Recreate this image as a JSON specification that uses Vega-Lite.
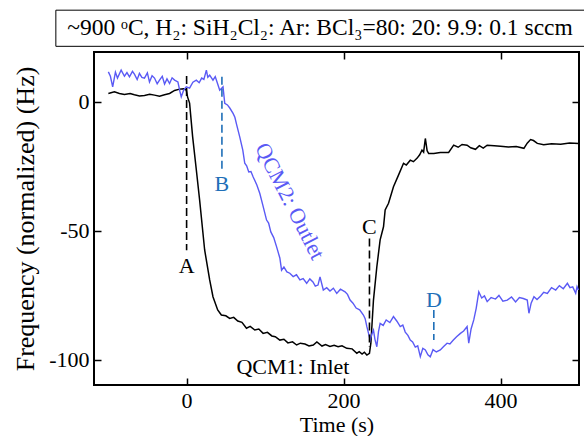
{
  "$schema": "https://vega.github.io/schema/vega-lite/v6.json",
  "width": 485,
  "height": 333,
  "autosize": {"type": "none"},
  "padding": {"left": 94, "top": 52, "right": 5, "bottom": 51},
  "background": "white",
  "config": {
    "font": "Liberation Serif",
    "view": {"stroke": "black", "strokeWidth": 2},
    "axis": {
      "grid": false,
      "domain": false,
      "tickColor": "black",
      "tickWidth": 1.5,
      "tickSize": -7,
      "labelColor": "black",
      "labelFontSize": 22,
      "titleColor": "black",
      "titleFontWeight": "normal",
      "titleFont": "Liberation Serif",
      "labelFont": "Liberation Serif"
    }
  },
  "datasets": {
    "qcm1": [
      {"t": -99.7, "v": 3.25}, {"t": -92.0, "v": 3.87}, {"t": -85.6, "v": 3.25}, {"t": -79.2, "v": 2.86},
      {"t": -72.0, "v": 3.2}, {"t": -66.5, "v": 2.71}, {"t": -60.0, "v": 2.3}, {"t": -53.7, "v": 2.48},
      {"t": -47.0, "v": 2.9}, {"t": -40.9, "v": 2.59}, {"t": -34.5, "v": 2.21}, {"t": -28.1, "v": 2.71},
      {"t": -21.7, "v": 3.25}, {"t": -15.3, "v": 4.41}, {"t": -8.9, "v": 4.92}, {"t": -3.8, "v": 5.03},
      {"t": -0.4, "v": 4.53}, {"t": 1.3, "v": 1.82}, {"t": 3.8, "v": -0.5}, {"t": 7.7, "v": -13.6},
      {"t": 12.4, "v": -26.4}, {"t": 16.6, "v": -38.1}, {"t": 23.0, "v": -57.4}, {"t": 29.4, "v": -69.0},
      {"t": 33.6, "v": -75.5}, {"t": 39.6, "v": -80.6}, {"t": 44.3, "v": -82.6}, {"t": 50.0, "v": -82.9},
      {"t": 54.9, "v": -83.9}, {"t": 60.0, "v": -83.5}, {"t": 65.2, "v": -84.9}, {"t": 70.5, "v": -85.4},
      {"t": 76.3, "v": -87.7}, {"t": 81.0, "v": -87.0}, {"t": 86.9, "v": -88.4}, {"t": 92.0, "v": -88.0},
      {"t": 97.5, "v": -89.7}, {"t": 103.0, "v": -89.3}, {"t": 108.6, "v": -90.7}, {"t": 113.0, "v": -91.0},
      {"t": 118.8, "v": -92.3}, {"t": 124.0, "v": -92.0}, {"t": 129.1, "v": -93.4}, {"t": 135.0, "v": -93.0},
      {"t": 140.2, "v": -94.2}, {"t": 145.0, "v": -93.5}, {"t": 150.8, "v": -93.8}, {"t": 156.0, "v": -94.6},
      {"t": 161.4, "v": -94.2}, {"t": 166.0, "v": -93.0}, {"t": 172.5, "v": -94.6}, {"t": 177.0, "v": -94.0},
      {"t": 182.7, "v": -94.8}, {"t": 188.0, "v": -94.3}, {"t": 193.0, "v": -94.9}, {"t": 198.0, "v": -94.5},
      {"t": 204.1, "v": -95.5}, {"t": 210.9, "v": -95.7}, {"t": 216.9, "v": -97.4}, {"t": 220.0, "v": -96.8},
      {"t": 223.6, "v": -97.7}, {"t": 226.5, "v": -97.0}, {"t": 229.7, "v": -98.1}, {"t": 233.0, "v": -97.4},
      {"t": 234.8, "v": -93.5}, {"t": 238.1, "v": -76.8}, {"t": 242.4, "v": -63.9}, {"t": 246.6, "v": -53.5},
      {"t": 250.9, "v": -48.4}, {"t": 253.0, "v": -41.9}, {"t": 257.3, "v": -39.3}, {"t": 263.6, "v": -32.9},
      {"t": 270.0, "v": -28.4}, {"t": 276.4, "v": -23.8}, {"t": 280.0, "v": -24.5}, {"t": 285.0, "v": -22.6},
      {"t": 289.0, "v": -23.2}, {"t": 293.5, "v": -21.9}, {"t": 297.0, "v": -20.5}, {"t": 299.9, "v": -18.7},
      {"t": 302.0, "v": -19.5}, {"t": 304.2, "v": -14.2}, {"t": 306.5, "v": -19.0}, {"t": 308.4, "v": -20.0},
      {"t": 315.0, "v": -20.0}, {"t": 323.3, "v": -19.6}, {"t": 333.9, "v": -19.6}, {"t": 340.3, "v": -16.8},
      {"t": 346.0, "v": -17.6}, {"t": 351.0, "v": -16.5}, {"t": 357.4, "v": -16.8}, {"t": 362.0, "v": -17.8},
      {"t": 368.1, "v": -18.4}, {"t": 373.0, "v": -17.0}, {"t": 378.0, "v": -17.9}, {"t": 383.0, "v": -16.8},
      {"t": 392.0, "v": -17.0}, {"t": 400.0, "v": -17.2}, {"t": 410.0, "v": -17.5}, {"t": 420.0, "v": -17.3},
      {"t": 429.8, "v": -18.0}, {"t": 434.0, "v": -16.0}, {"t": 438.3, "v": -14.6}, {"t": 442.0, "v": -15.0},
      {"t": 446.9, "v": -16.1}, {"t": 455.0, "v": -16.6}, {"t": 465.0, "v": -16.2}, {"t": 476.7, "v": -16.4},
      {"t": 488.0, "v": -16.0}, {"t": 499.5, "v": -16.1}
    ],
    "qcm2": [
      {"t": -99.7, "v": 11.6}, {"t": -97.1, "v": 9.9}, {"t": -94.2, "v": 5.8}, {"t": -90.7, "v": 11.5},
      {"t": -88.1, "v": 9.2}, {"t": -83.4, "v": 12.3}, {"t": -79.2, "v": 9.9}, {"t": -76.0, "v": 11.3},
      {"t": -72.8, "v": 9.7}, {"t": -69.0, "v": 11.8}, {"t": -66.5, "v": 10.7}, {"t": -63.0, "v": 8.6},
      {"t": -60.1, "v": 11.0}, {"t": -57.0, "v": 9.5}, {"t": -53.7, "v": 9.2}, {"t": -50.0, "v": 11.2},
      {"t": -47.3, "v": 7.7}, {"t": -44.0, "v": 10.1}, {"t": -40.9, "v": 9.2}, {"t": -37.5, "v": 7.0},
      {"t": -34.5, "v": 8.4}, {"t": -31.0, "v": 9.9}, {"t": -28.1, "v": 6.9}, {"t": -25.0, "v": 8.9},
      {"t": -21.7, "v": 7.1}, {"t": -18.5, "v": 9.3}, {"t": -15.3, "v": 8.4}, {"t": -11.1, "v": 7.7},
      {"t": -8.5, "v": 4.0}, {"t": -6.8, "v": 1.9}, {"t": -3.8, "v": 4.5}, {"t": -0.4, "v": 5.8},
      {"t": 3.8, "v": 5.3}, {"t": 8.0, "v": 7.6}, {"t": 12.4, "v": 8.4}, {"t": 16.0, "v": 7.4},
      {"t": 19.2, "v": 9.2}, {"t": 22.0, "v": 8.7}, {"t": 25.2, "v": 12.3}, {"t": 27.0, "v": 9.5},
      {"t": 29.4, "v": 10.3}, {"t": 33.6, "v": 8.4}, {"t": 36.5, "v": 9.8}, {"t": 39.6, "v": 6.9},
      {"t": 42.2, "v": 4.5}, {"t": 46.4, "v": 5.8}, {"t": 48.6, "v": -0.6}, {"t": 52.0, "v": -1.2},
      {"t": 55.0, "v": -2.4}, {"t": 59.2, "v": -4.5}, {"t": 61.5, "v": -6.0}, {"t": 63.9, "v": -9.0},
      {"t": 67.7, "v": -13.6}, {"t": 71.6, "v": -18.7}, {"t": 74.1, "v": -23.8}, {"t": 76.5, "v": -24.8},
      {"t": 79.2, "v": -27.2}, {"t": 82.0, "v": -27.0}, {"t": 84.7, "v": -29.0}, {"t": 89.5, "v": -32.2},
      {"t": 93.3, "v": -35.5}, {"t": 97.1, "v": -40.0}, {"t": 101.9, "v": -45.8}, {"t": 104.5, "v": -47.0},
      {"t": 107.3, "v": -50.4}, {"t": 111.0, "v": -52.6}, {"t": 114.6, "v": -56.1}, {"t": 118.8, "v": -60.5},
      {"t": 121.0, "v": -65.2}, {"t": 124.0, "v": -64.0}, {"t": 127.8, "v": -65.9}, {"t": 131.5, "v": -66.4},
      {"t": 135.8, "v": -67.7}, {"t": 140.0, "v": -67.0}, {"t": 144.4, "v": -69.0}, {"t": 148.5, "v": -68.5},
      {"t": 153.0, "v": -70.3}, {"t": 157.0, "v": -68.6}, {"t": 161.0, "v": -69.8}, {"t": 164.0, "v": -71.4},
      {"t": 167.4, "v": -71.0}, {"t": 170.0, "v": -67.8}, {"t": 174.2, "v": -72.9}, {"t": 178.5, "v": -72.0},
      {"t": 182.7, "v": -73.3}, {"t": 187.0, "v": -72.2}, {"t": 191.3, "v": -74.2}, {"t": 196.0, "v": -72.6},
      {"t": 201.9, "v": -73.6}, {"t": 205.0, "v": -74.6}, {"t": 208.3, "v": -76.8}, {"t": 212.0, "v": -78.0},
      {"t": 216.0, "v": -79.9}, {"t": 220.5, "v": -80.6}, {"t": 225.3, "v": -82.6}, {"t": 227.5, "v": -84.0},
      {"t": 229.7, "v": -87.1}, {"t": 233.9, "v": -92.3}, {"t": 236.0, "v": -90.0}, {"t": 238.1, "v": -88.4},
      {"t": 240.0, "v": -92.0}, {"t": 242.4, "v": -94.9}, {"t": 244.5, "v": -89.0}, {"t": 246.6, "v": -85.8},
      {"t": 250.5, "v": -86.6}, {"t": 254.3, "v": -84.5}, {"t": 259.0, "v": -85.5}, {"t": 263.6, "v": -83.2},
      {"t": 268.0, "v": -85.0}, {"t": 272.2, "v": -87.1}, {"t": 275.5, "v": -86.5}, {"t": 278.6, "v": -89.2},
      {"t": 282.0, "v": -90.5}, {"t": 285.0, "v": -92.3}, {"t": 288.0, "v": -93.0}, {"t": 291.4, "v": -95.0},
      {"t": 294.5, "v": -94.5}, {"t": 297.8, "v": -98.7}, {"t": 301.0, "v": -95.5}, {"t": 304.2, "v": -96.1},
      {"t": 307.5, "v": -98.0}, {"t": 310.5, "v": -98.8}, {"t": 314.0, "v": -96.0}, {"t": 318.2, "v": -96.9},
      {"t": 323.3, "v": -96.1}, {"t": 327.5, "v": -94.8}, {"t": 331.9, "v": -93.5}, {"t": 335.5, "v": -93.8},
      {"t": 339.9, "v": -92.3}, {"t": 344.0, "v": -91.0}, {"t": 348.9, "v": -89.7}, {"t": 353.0, "v": -88.8},
      {"t": 357.4, "v": -87.1}, {"t": 359.5, "v": -93.5}, {"t": 362.5, "v": -88.0}, {"t": 365.9, "v": -84.5},
      {"t": 369.0, "v": -80.0}, {"t": 372.3, "v": -73.6}, {"t": 376.0, "v": -76.0}, {"t": 379.5, "v": -75.2},
      {"t": 383.0, "v": -77.4}, {"t": 388.0, "v": -75.8}, {"t": 393.6, "v": -76.4}, {"t": 398.0, "v": -75.0},
      {"t": 403.0, "v": -77.2}, {"t": 408.6, "v": -76.8}, {"t": 414.0, "v": -75.6}, {"t": 419.2, "v": -77.5},
      {"t": 424.0, "v": -75.8}, {"t": 429.0, "v": -76.2}, {"t": 434.1, "v": -76.8}, {"t": 436.2, "v": -81.9},
      {"t": 439.0, "v": -78.0}, {"t": 442.6, "v": -75.5}, {"t": 446.5, "v": -76.6}, {"t": 451.1, "v": -75.2},
      {"t": 455.0, "v": -73.8}, {"t": 459.7, "v": -74.2}, {"t": 465.0, "v": -72.0}, {"t": 470.3, "v": -72.9},
      {"t": 475.0, "v": -71.2}, {"t": 480.0, "v": -72.4}, {"t": 485.2, "v": -70.3}, {"t": 488.5, "v": -72.0},
      {"t": 492.0, "v": -71.7}, {"t": 495.8, "v": -74.2}, {"t": 497.5, "v": -71.6}, {"t": 499.3, "v": -72.9}
    ],
    "markers": [
      {"name": "A", "group": "inlet", "t": 0, "top": 10, "bottom": -57.5, "labelV": -63.5},
      {"name": "C", "group": "inlet", "t": 233, "top": -52.9, "bottom": -95, "labelV": -48.4},
      {"name": "B", "group": "outlet", "t": 45, "top": 9.7, "bottom": -26.5, "labelV": -31.8},
      {"name": "D", "group": "outlet", "t": 315, "top": -80.6, "bottom": -92.3, "labelV": -76.8}
    ],
    "curveLabels": [
      {"text": "QCM1: Inlet", "t": 135.5, "v": -102.6},
      {"text": "QCM2: Outlet", "t": 131.6, "v": -38.5}
    ],
    "header": [
      {"text": "~900 ᵒC, H₂: SiH₂Cl₂: Ar: BCl₃=80: 20: 9.9: 0.1 sccm", "left": -166.6, "right": 515, "top": 35.5, "bottom": 21.5, "mid": 170, "vmid": 28.5}
    ]
  },
  "layer": [
    {
      "encoding": {
        "x": {"type": "quantitative", "scale": {"domain": [-118, 500], "nice": false, "zero": false}},
        "y": {"type": "quantitative", "scale": {"domain": [-109.7, 19.3], "nice": false, "zero": false}}
      },
      "layer": [
        {
          "data": {"name": "qcm1"},
          "mark": {"type": "line", "color": "black", "strokeWidth": 1.5, "interpolate": "linear"},
          "encoding": {
            "x": {"field": "t", "type": "quantitative", "axis": {"values": [0, 200, 400], "labelPadding": 12, "title": "Time (s)", "titleFontSize": 22, "titlePadding": 3}},
            "y": {"field": "v", "type": "quantitative", "axis": {"values": [0, -50, -100], "labelExpr": "'' + datum.value", "labelPadding": 12, "title": "Frequency (normalized) (Hz)", "titleFontSize": 26, "titlePadding": 10}}
          }
        },
        {
          "data": {"name": "qcm2"},
          "mark": {"type": "line", "color": "#5a5af5", "strokeWidth": 1.4},
          "encoding": {
            "x": {"field": "t", "type": "quantitative"},
            "y": {"field": "v", "type": "quantitative"}
          }
        },
        {
          "data": {"name": "markers"},
          "transform": [{"filter": "datum.group === 'inlet'"}],
          "mark": {"type": "rule", "color": "black", "strokeWidth": 1.6, "strokeDash": [8, 4]},
          "encoding": {
            "x": {"field": "t", "type": "quantitative"},
            "y": {"field": "top", "type": "quantitative"},
            "y2": {"field": "bottom"}
          }
        },
        {
          "data": {"name": "markers"},
          "transform": [{"filter": "datum.group === 'outlet'"}],
          "mark": {"type": "rule", "color": "#1f6fb8", "strokeWidth": 1.6, "strokeDash": [8, 4]},
          "encoding": {
            "x": {"field": "t", "type": "quantitative"},
            "y": {"field": "top", "type": "quantitative"},
            "y2": {"field": "bottom"}
          }
        },
        {
          "data": {"name": "markers"},
          "transform": [{"filter": "datum.group === 'inlet'"}],
          "mark": {"type": "text", "color": "black", "fontSize": 22, "align": "center", "baseline": "middle"},
          "encoding": {
            "x": {"field": "t", "type": "quantitative"},
            "y": {"field": "labelV", "type": "quantitative"},
            "text": {"field": "name"}
          }
        },
        {
          "data": {"name": "markers"},
          "transform": [{"filter": "datum.group === 'outlet'"}],
          "mark": {"type": "text", "color": "#1f6fb8", "fontSize": 22, "align": "center", "baseline": "middle"},
          "encoding": {
            "x": {"field": "t", "type": "quantitative"},
            "y": {"field": "labelV", "type": "quantitative"},
            "text": {"field": "name"}
          }
        },
        {
          "data": {"name": "curveLabels"},
          "transform": [{"filter": "datum.text === 'QCM1: Inlet'"}],
          "mark": {"type": "text", "color": "black", "fontSize": 22, "align": "center", "baseline": "middle"},
          "encoding": {
            "x": {"field": "t", "type": "quantitative"},
            "y": {"field": "v", "type": "quantitative"},
            "text": {"field": "text"}
          }
        },
        {
          "data": {"name": "curveLabels"},
          "transform": [{"filter": "datum.text === 'QCM2: Outlet'"}],
          "mark": {"type": "text", "color": "#5a5af5", "fontSize": 22, "align": "center", "baseline": "middle", "angle": 63},
          "encoding": {
            "x": {"field": "t", "type": "quantitative"},
            "y": {"field": "v", "type": "quantitative"},
            "text": {"field": "text"}
          }
        },
        {
          "data": {"name": "header"},
          "mark": {"type": "rect", "fill": "white", "stroke": "black", "strokeWidth": 1, "clip": false},
          "encoding": {
            "x": {"field": "left", "type": "quantitative"},
            "x2": {"field": "right"},
            "y": {"field": "top", "type": "quantitative"},
            "y2": {"field": "bottom"}
          }
        },
        {
          "data": {"name": "header"},
          "mark": {"type": "text", "color": "black", "fontSize": 23.5, "align": "center", "baseline": "middle", "clip": false},
          "encoding": {
            "x": {"field": "mid", "type": "quantitative"},
            "y": {"field": "vmid", "type": "quantitative"},
            "text": {"field": "text"}
          }
        }
      ]
    },
    {
      "data": {"values": [{"t": 0, "v": 0}]},
      "mark": {"type": "point", "opacity": 0},
      "encoding": {
        "x": {"field": "t", "type": "quantitative", "scale": {"domain": [-118, 500], "nice": false, "zero": false}, "axis": {"orient": "top", "values": [0, 200, 400], "labels": false, "title": null}},
        "y": {"field": "v", "type": "quantitative", "scale": {"domain": [-109.7, 19.3], "nice": false, "zero": false}, "axis": {"orient": "right", "values": [0, -50, -100], "labels": false, "title": null}}
      }
    }
  ],
  "resolve": {"scale": {"x": "independent", "y": "independent"}}
}
